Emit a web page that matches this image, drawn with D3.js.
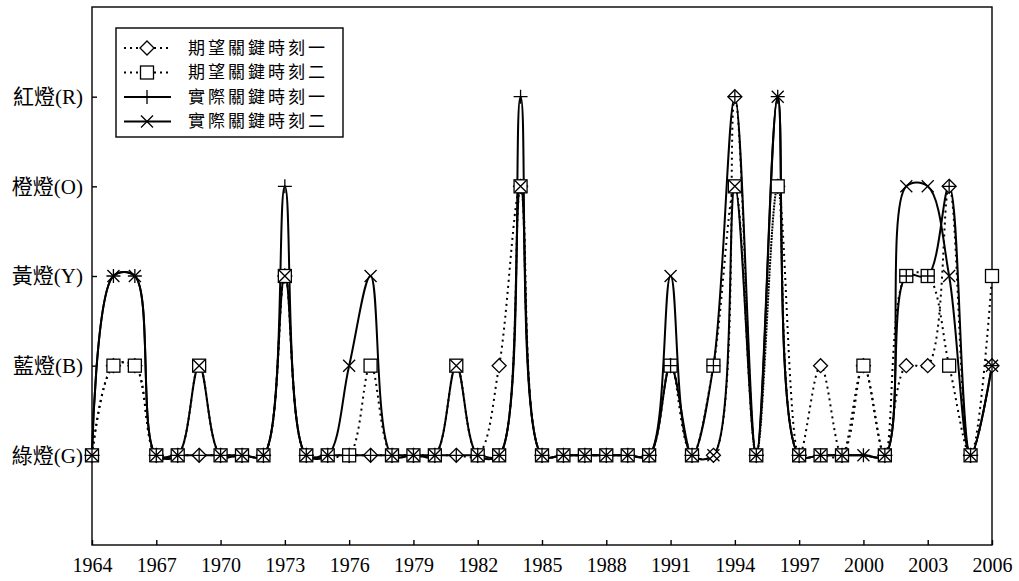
<!DOCTYPE html>
<html lang="zh-Hant">
  <head>
    <meta charset="UTF-8" />
    <title>關鍵時刻</title>
    <script src="https://d3js.org/d3.v7.min.js"></script>
    <style>
      body { margin: 0; background: #fff; }
      text { font-family: "Liberation Serif", "Noto Sans CJK TC", serif; fill: #000; }
    </style>
  </head>
  <body>
    <div id="chart"></div>
    <script>
      const years = d3.range(1964, 2007);
      const levelLabels = ["綠燈(G)", "藍燈(B)", "黃燈(Y)", "橙燈(O)", "紅燈(R)"];
      const xTickYears = [1964, 1967, 1970, 1973, 1976, 1979, 1982, 1985, 1988, 1991, 1994, 1997, 2000, 2003, 2006];

      // 1 = 綠燈 ... 5 = 紅燈
      const expected1 = [1,2,2,1,1,1,1,1,1,3,1,1,1,1,1,1,1,1,1,2,4,1,1,1,1,1,1,2,1,1,5,1,4,1,2,1,2,1,2,2,4,1,2];
      const expected2 = [1,2,2,1,1,2,1,1,1,3,1,1,1,2,1,1,1,2,1,1,4,1,1,1,1,1,1,2,1,2,4,1,4,1,1,1,2,1,3,3,2,1,3];
      const actual1   = [1,3,3,1,1,1,1,1,1,4,1,1,1,1,1,1,1,1,1,1,5,1,1,1,1,1,1,2,1,2,5,1,5,1,1,1,1,1,3,3,4,1,2];
      const actual2   = [1,3,3,1,1,2,1,1,1,3,1,1,2,3,1,1,1,2,1,1,4,1,1,1,1,1,1,3,1,1,4,1,5,1,1,1,1,1,4,4,3,1,2];

      const series = [
        { name: "期望關鍵時刻一", values: expected1, dash: "2,4", marker: "diamond" },
        { name: "期望關鍵時刻二", values: expected2, dash: "2,4", marker: "square" },
        { name: "實際關鍵時刻一", values: actual1, dash: null, marker: "plus" },
        { name: "實際關鍵時刻二", values: actual2, dash: null, marker: "cross" }
      ];

      const width = 1019;
      const height = 581;
      const plotLeft = 92, plotRight = 992, plotTop = 7, plotBottom = 545;

      const svg = d3.select("#chart").append("svg")
        .attr("width", width)
        .attr("height", height);

      const x = d3.scaleLinear().domain([1964, 2006]).range([plotLeft, plotRight]);
      const y = d3.scaleLinear().domain([0, 6]).range([plotBottom, plotTop]);

      // frame
      svg.append("rect")
        .attr("x", plotLeft).attr("y", plotTop)
        .attr("width", plotRight - plotLeft).attr("height", plotBottom - plotTop)
        .attr("fill", "none").attr("stroke", "#000").attr("stroke-width", 1.4);

      // y axis ticks and labels
      const yAxis = d3.axisLeft(y).tickValues([1, 2, 3, 4, 5])
        .tickSizeInner(-5).tickSizeOuter(0).tickPadding(9)
        .tickFormat(d => levelLabels[d - 1]);
      svg.append("g").attr("transform", `translate(${plotLeft},0)`).call(yAxis)
        .call(g => g.select(".domain").remove())
        .call(g => g.selectAll("text").attr("font-size", 21))
        .call(g => g.selectAll("line").attr("stroke-width", 1.4));

      // x axis
      const xAxis = d3.axisBottom(x).tickValues(xTickYears)
        .tickSizeInner(-5).tickSizeOuter(0).tickPadding(13)
        .tickFormat(d3.format("d"));
      svg.append("g").attr("transform", `translate(0,${plotBottom})`).call(xAxis)
        .call(g => g.select(".domain").remove())
        .call(g => g.selectAll("text").attr("font-size", 20))
        .call(g => g.selectAll("line").attr("stroke-width", 1.4));

      const line = d3.line()
        .x((d, i) => x(years[i]))
        .y(d => y(d))
        .curve(d3.curveCatmullRom.alpha(0.5));

      // lines first, markers on top
      series.forEach(s => {
        svg.append("path")
          .attr("d", line(s.values))
          .attr("fill", "none")
          .attr("stroke", "#000")
          .attr("stroke-width", 2)
          .attr("stroke-dasharray", s.dash);
      });

      function drawMarker(g, type, cx, cy) {
        if (type === "diamond") {
          g.append("path")
            .attr("d", `M${cx},${cy - 7}L${cx + 7},${cy}L${cx},${cy + 7}L${cx - 7},${cy}Z`)
            .attr("fill", "#fff").attr("stroke", "#000").attr("stroke-width", 1.3);
        } else if (type === "square") {
          g.append("rect")
            .attr("x", cx - 6.5).attr("y", cy - 6.5).attr("width", 13).attr("height", 13)
            .attr("fill", "#fff").attr("stroke", "#000").attr("stroke-width", 1.3);
        } else if (type === "plus") {
          g.append("path")
            .attr("d", `M${cx - 7},${cy}H${cx + 7}M${cx},${cy - 7}V${cy + 7}`)
            .attr("stroke", "#000").attr("stroke-width", 1.3);
        } else {
          g.append("path")
            .attr("d", `M${cx - 6},${cy - 6}L${cx + 6},${cy + 6}M${cx - 6},${cy + 6}L${cx + 6},${cy - 6}`)
            .attr("stroke", "#000").attr("stroke-width", 1.3);
        }
      }

      series.forEach(s => {
        const g = svg.append("g");
        s.values.forEach((v, i) => drawMarker(g, s.marker, x(years[i]), y(v)));
      });

      // legend
      const legend = svg.append("g").attr("transform", "translate(116,28)");
      legend.append("rect")
        .attr("width", 227).attr("height", 109)
        .attr("fill", "#fff").attr("stroke", "#000").attr("stroke-width", 1.4);
      series.forEach((s, i) => {
        const ry = 20 + i * 24.5;
        legend.append("line")
          .attr("x1", 8).attr("x2", 55).attr("y1", ry).attr("y2", ry)
          .attr("stroke", "#000").attr("stroke-width", 2)
          .attr("stroke-dasharray", s.dash);
        drawMarker(legend, s.marker, 31, ry);
        legend.append("text")
          .attr("x", 72).attr("y", ry).attr("dy", "0.35em")
          .attr("font-size", 17)
          .attr("letter-spacing", 3)
          .text(s.name);
      });
    </script>
  </body>
</html>
